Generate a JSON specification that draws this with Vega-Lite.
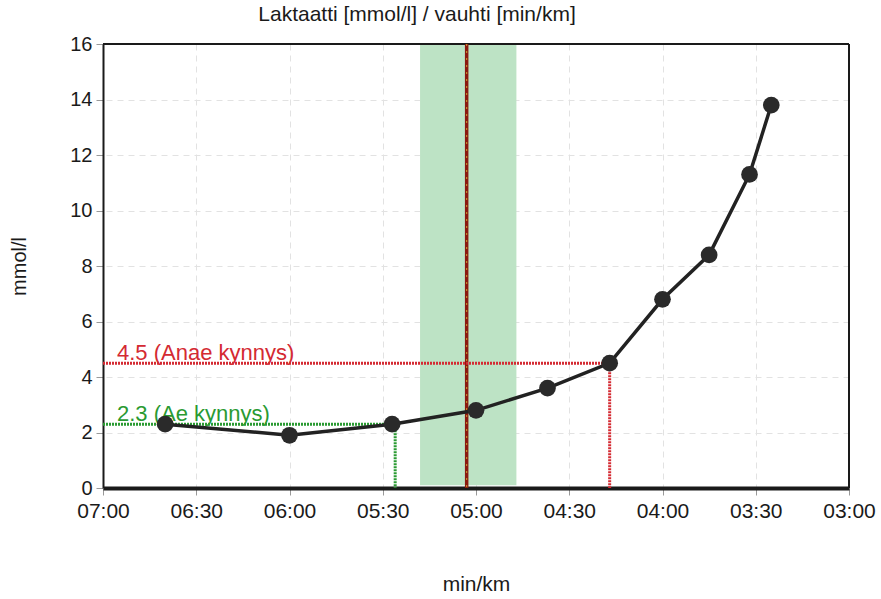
{
  "$schema": "https://vega.github.io/schema/vega-lite/v6.json",
  "autosize": "none",
  "width": 746,
  "height": 444,
  "padding": {"left": 103, "top": 44, "right": 32, "bottom": 111},
  "background": "white",
  "config": {
    "font": "Liberation Sans",
    "view": {"stroke": null},
    "axis": {
      "labelFont": "Liberation Sans",
      "titleFont": "Liberation Sans",
      "labelFontSize": 20,
      "titleFontSize": 20,
      "titleFontWeight": "normal",
      "labelColor": "#1a1a1a",
      "titleColor": "#1a1a1a",
      "gridColor": "#e2e2e2",
      "gridDash": [6, 5],
      "tickColor": "#999",
      "tickSize": 7
    }
  },
  "title": {
    "text": "Laktaatti [mmol/l] / vauhti [min/km]",
    "font": "Liberation Sans",
    "fontSize": 21,
    "fontWeight": "normal",
    "color": "#1a1a1a",
    "dx": -59,
    "offset": 9
  },
  "datasets": {
    "pts": [
      {"pace": 400, "lactate": 2.3},
      {"pace": 360, "lactate": 1.9},
      {"pace": 327, "lactate": 2.3},
      {"pace": 300, "lactate": 2.8},
      {"pace": 277, "lactate": 3.6},
      {"pace": 257, "lactate": 4.5},
      {"pace": 240, "lactate": 6.8},
      {"pace": 225, "lactate": 8.4},
      {"pace": 212, "lactate": 11.3},
      {"pace": 205, "lactate": 13.8}
    ],
    "band": [{"x1": 318, "x2": 287, "y1": 0.1, "y2": 16}],
    "vline": [{"x": 303}],
    "frame": [{"x": 180, "y": 16}],
    "thr": [
      {"name": "Anae", "x1": 420, "x2": 257, "y": 4.5, "label": "4.5 (Anae kynnys)"},
      {"name": "Ae", "x1": 420, "x2": 326, "y": 2.3, "label": "2.3 (Ae kynnys)"}
    ]
  },
  "layer": [
    {
      "data": {"name": "band"},
      "mark": {"type": "rect", "color": "#bde3c5", "opacity": 1},
      "encoding": {
        "x": {
          "field": "x1", "type": "quantitative",
          "scale": {"domain": [180, 420], "reverse": true, "nice": false, "zero": false},
          "axis": {
            "values": [180, 210, 240, 270, 300, 330, 360, 390, 420],
            "labelExpr": "'0' + floor(datum.value/60) + ':' + (datum.value % 60 < 10 ? '0' : '') + (datum.value % 60)",
            "labelFlush": false,
            "labelFontSize": 21,
            "title": "min/km",
            "titleFontSize": 21,
            "titlePadding": 52,
            "labelPadding": 5,
            "domainColor": "#1a1a1a",
            "domainWidth": 4,
            "grid": true
          }
        },
        "x2": {"field": "x2"},
        "y": {
          "field": "y1", "type": "quantitative",
          "scale": {"domain": [0, 16], "nice": false},
          "axis": {
            "values": [0, 2, 4, 6, 8, 10, 12, 14, 16],
            "labelFlush": false,
            "title": "mmol/l",
            "titlePadding": 40,
            "labelPadding": 4,
            "domainColor": "#1a1a1a",
            "domainWidth": 2,
            "grid": true
          }
        },
        "y2": {"field": "y2"}
      }
    },
    {
      "data": {"name": "frame"},
      "mark": {"type": "rule", "color": "#1a1a1a", "strokeWidth": 2},
      "encoding": {"y": {"field": "y", "type": "quantitative"}}
    },
    {
      "data": {"name": "frame"},
      "mark": {"type": "rule", "color": "#1a1a1a", "strokeWidth": 2},
      "encoding": {"x": {"field": "x", "type": "quantitative"}}
    },
    {
      "data": {"name": "vline"},
      "mark": {"type": "rule", "color": "#8b1a10", "strokeWidth": 3.5},
      "encoding": {"x": {"field": "x", "type": "quantitative"}}
    },
    {
      "data": {"name": "vline"},
      "mark": {"type": "rule", "color": "#c8a030", "strokeWidth": 1, "strokeDash": [2, 5]},
      "encoding": {"x": {"field": "x", "type": "quantitative"}}
    },
    {
      "data": {"name": "thr"},
      "mark": {"type": "rule", "strokeWidth": 3, "strokeDash": [2, 1]},
      "encoding": {
        "x": {"field": "x1", "type": "quantitative"},
        "x2": {"field": "x2"},
        "y": {"field": "y", "type": "quantitative"},
        "color": {"field": "name", "type": "nominal", "scale": {"domain": ["Anae", "Ae"], "range": ["#d42a32", "#2a9a32"]}, "legend": null}
      }
    },
    {
      "data": {"name": "thr"},
      "mark": {"type": "rule", "strokeWidth": 3, "strokeDash": [2, 1]},
      "encoding": {
        "x": {"field": "x2", "type": "quantitative"},
        "y": {"field": "y", "type": "quantitative"},
        "y2": {"datum": 0},
        "color": {"field": "name", "type": "nominal", "legend": null}
      }
    },
    {
      "data": {"name": "thr"},
      "mark": {"type": "text", "align": "left", "baseline": "alphabetic", "dx": 14, "dy": -3, "fontSize": 22, "font": "Liberation Sans"},
      "encoding": {
        "x": {"field": "x1", "type": "quantitative"},
        "y": {"field": "y", "type": "quantitative"},
        "text": {"field": "label"},
        "color": {"field": "name", "type": "nominal", "legend": null}
      }
    },
    {
      "data": {"name": "pts"},
      "mark": {"type": "line", "color": "#222", "strokeWidth": 3.5, "point": {"filled": true, "size": 280, "color": "#2a2a2a"}},
      "encoding": {
        "x": {"field": "pace", "type": "quantitative"},
        "y": {"field": "lactate", "type": "quantitative"},
        "order": {"field": "pace", "sort": "descending"}
      }
    }
  ]
}
